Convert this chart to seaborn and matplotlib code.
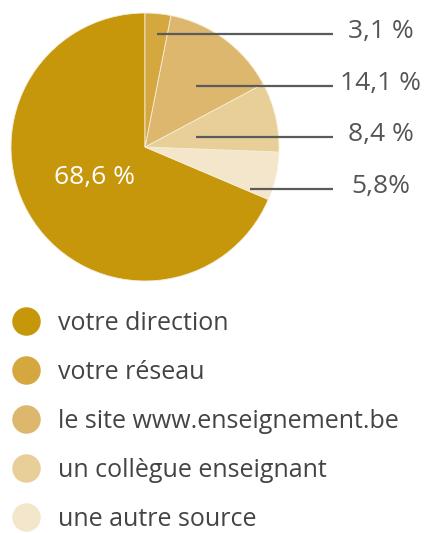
import matplotlib
matplotlib.use("Agg")
import matplotlib.pyplot as plt
from matplotlib.lines import Line2D
import numpy as np
import seaborn as sns

# data, legend order
sources = ["votre direction", "votre réseau", "le site www.enseignement.be",
           "un collègue enseignant", "une autre source"]
shares = [68.6, 3.1, 14.1, 8.4, 5.8]
share_labels = ["68,6 %", "3,1 %", "14,1 %", "8,4 %", "5,8%"]
colors = ["#C6970B", "#D4A73F", "#DCB76D", "#E8CF98", "#F3E6CA"]

sns.set_theme(style="white")
plt.rcParams["font.family"] = ["Open Sans", "DejaVu Sans"]

W, H = 424, 533
fig = plt.figure(figsize=(W / 100, H / 100), dpi=100)

# pie centre (145, 147) px, radius 134 px
cx, cy, r = 145, 147, 134
ax = fig.add_axes([(cx - r) / W, (H - cy - r) / H, 2 * r / W, 2 * r / H])

# first slice goes counter-clockwise from the top, the rest clockwise from the top
order = [0, 4, 3, 2, 1]
wedges, _ = ax.pie([shares[i] for i in order], colors=[colors[i] for i in order],
                   startangle=90, counterclock=True, radius=1,
                   wedgeprops=dict(edgecolor="#f6eedb", linewidth=0.6))
ax.set_xlim(-1, 1)
ax.set_ylim(-1, 1)
ax.set_aspect("equal")
ax.axis("off")

# big slice label inside
w0 = wedges[0]
mid = np.deg2rad((w0.theta1 + w0.theta2) / 2)
ax.text(0.45 * np.cos(mid), 0.45 * np.sin(mid) + 0.02, share_labels[0], color="white",
        fontsize=19, ha="center", va="center")

# leader lines for the small slices (start point in pie units, line height)
leaders = {1: (0.09, 0.843), 2: (0.38, 0.455), 3: (0.38, 0.075), 4: (0.78, -0.313)}
line_end = (333 - cx) / r
text_x = (381 - cx) / r
for i, (x0, y0) in leaders.items():
    ax.plot([x0, line_end], [y0, y0], color="#5b5b5b", lw=1.6,
            solid_capstyle="butt", clip_on=False)
    ax.text(text_x, y0 - 0.03, share_labels[i], color="#555555", fontsize=19,
            ha="center", va="baseline", clip_on=False)

handles = [Line2D([], [], marker="o", linestyle="none", markersize=19.5,
                  markerfacecolor=c, markeredgecolor=c) for c in colors]
fig.legend(handles, sources, loc="upper left", bbox_to_anchor=(2 / W, 1 - 301 / H),
           frameon=False, fontsize=18, labelcolor="#444444", handletextpad=0.75,
           labelspacing=0.955, handlelength=1.1, borderaxespad=0)

fig.savefig("out.png", dpi=100, facecolor="white")
